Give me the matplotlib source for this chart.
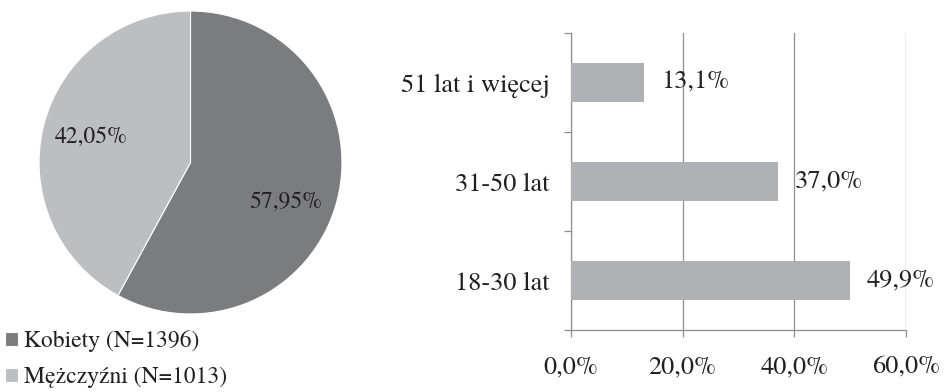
import math
import matplotlib
matplotlib.use("Agg")
import matplotlib.pyplot as plt
from matplotlib.ticker import FixedLocator

# Gender split (respondent counts)
gender_labels = ["Kobiety (N=1396)", "Mężczyźni (N=1013)"]
gender_counts = [1396, 1013]

# Age groups (percent of respondents), bottom to top
age_groups = ["18-30 lat", "31-50 lat", "51 lat i więcej"]
age_share = [49.9, 37.0, 13.1]
x_ticks = [0, 20, 40, 60]

plt.rcParams["font.family"] = ["TeX Gyre Termes", "Liberation Serif", "DejaVu Serif"]
FS_PIE = 17
FS_BAR = 19
TXT = "#231f20"
W, H = 947, 392

fig = plt.figure(figsize=(W / 100, H / 100), dpi=100)

# ---- pie chart ----
pie_colors = ["#7b7c80", "#bdbec2"]
r_px = 154.5
cx, cy = 190.5, 162.5
ax_pie = fig.add_axes([(cx - r_px) / W, (H - cy - r_px) / H, 2 * r_px / W, 2 * r_px / H])
wedges, _, autotexts = ax_pie.pie(
    gender_counts,
    colors=pie_colors,
    startangle=90,
    counterclock=False,
    autopct=lambda p: f"{p:.2f}%".replace(".", ","),
    pctdistance=0.68,
    wedgeprops=dict(linewidth=0.8, edgecolor="white"),
    textprops=dict(fontsize=FS_PIE, color=TXT),
)
# rotate the larger slice's label a little further clockwise
tx, ty = autotexts[0].get_position()
rr, ang = math.hypot(tx, ty), math.atan2(ty, tx) - math.radians(8)
autotexts[0].set_position((rr * math.cos(ang), rr * math.sin(ang)))
ax_pie.set_xlim(-1.02, 1.02)
ax_pie.set_ylim(-1.02, 1.02)
ax_pie.set_aspect("equal")

fig.legend(
    wedges, gender_labels,
    loc="upper left", bbox_to_anchor=(0.0, (H - 325.5) / H),
    frameon=False, fontsize=FS_PIE, labelcolor=TXT,
    handlelength=0.58, handleheight=0.55, handletextpad=0.25,
    labelspacing=0.62, borderaxespad=0, borderpad=0.2,
)

# ---- horizontal bar chart ----
x0, x1, y_top, y_bot = 571, 906, 33, 330
ax_bar = fig.add_axes([x0 / W, (H - y_bot) / H, (x1 - x0) / W, (y_bot - y_top) / H])
ypos = list(range(len(age_groups)))
bars = ax_bar.barh(ypos, age_share, height=0.4, color="#b0b1b5", zorder=3)
ax_bar.set_xlim(0, 60)
ax_bar.set_ylim(-0.5, len(age_groups) - 0.5)

for b, v in zip(bars, age_share):
    ax_bar.annotate(f"{v:.1f}%".replace(".", ","),
                    xy=(b.get_width(), b.get_y() + b.get_height() / 2),
                    xytext=(12.5, 0), textcoords="offset points",
                    ha="left", va="center", fontsize=FS_BAR, color=TXT, zorder=4)

grid_c = "#8e8e8e"
ax_bar.set_xticks(x_ticks)
ax_bar.set_xticklabels([f"{t:.1f}%".replace(".", ",") for t in x_ticks])
ax_bar.xaxis.grid(True, color=grid_c, linewidth=0.9, zorder=0)
ax_bar.set_yticks(ypos)
ax_bar.set_yticklabels(age_groups)
ax_bar.yaxis.set_minor_locator(FixedLocator([i - 0.5 for i in range(len(age_groups) + 1)]))
ax_bar.tick_params(axis="y", which="major", length=0, pad=15.5, labelsize=FS_BAR, labelcolor=TXT)
ax_bar.tick_params(axis="y", which="minor", length=5, color=grid_c, width=0.9, direction="out")
ax_bar.tick_params(axis="x", length=5, color=grid_c, width=0.9, pad=13.5, labelsize=FS_BAR, labelcolor=TXT)
for side in ["top", "right"]:
    ax_bar.spines[side].set_visible(False)
for side in ["left", "bottom"]:
    ax_bar.spines[side].set_color(grid_c)
    ax_bar.spines[side].set_linewidth(0.9)

fig.savefig("out.png", dpi=100)
